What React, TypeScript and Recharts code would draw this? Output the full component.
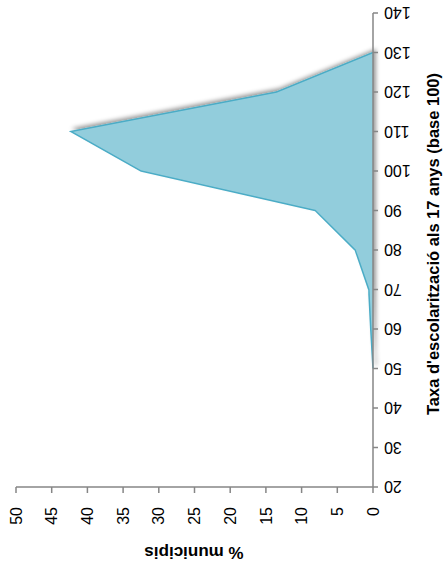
import React from 'react';
import { AreaChart, Area, XAxis, YAxis, Label } from 'recharts';

// taxa d'escolarització (base 100) -> % de municipis
const rates = [20, 30, 40, 50, 60, 70, 80, 90, 100, 110, 120, 130, 140];
const shares = [null, null, null, 0, 0.3, 0.6, 2.5, 8.1, 32.5, 42.3, 13.5, 0, null];
const shareTicks = [0, 5, 10, 15, 20, 25, 30, 35, 40, 45, 50];

const xTitle = "Taxa d'escolarització als 17 anys (base 100)";
const yTitle = '% municipis';

const data = rates.map((r, i) => ({ rate: r, share: shares[i] }));

const FONT = '"Liberation Sans", Arial, sans-serif';
const AXIS = '#868686';

const RateTick = (props: any) => {
  const { x, y, payload } = props;
  return (
    <text
      x={x}
      y={y}
      transform={`rotate(-90, ${x}, ${y})`}
      textAnchor="end"
      dy="0.35em"
      fontSize={16}
      fontFamily={FONT}
      fill="#000"
    >
      {payload.value}
    </text>
  );
};

// chart is drawn unrotated (570x444) and turned a quarter to the left
const XTitle = () => (
  <text
    x={326}
    y={438.5}
    textAnchor="middle"
    fontSize={16.5}
    fontWeight="bold"
    fontFamily={FONT}
    fill="#000"
  >
    {xTitle}
  </text>
);

const YTitle = () => {
  const cx = 23;
  const cy = 194;
  return (
    <text
      x={cx}
      y={cy}
      transform={`rotate(-90, ${cx}, ${cy})`}
      textAnchor="middle"
      fontSize={17}
      fontWeight="bold"
      fontFamily={FONT}
      fill="#000"
    >
      {yTitle}
    </text>
  );
};

const App = (): JSX.Element => {
  return (
    <div
      style={{
        position: 'absolute',
        left: 0,
        top: 0,
        width: 444,
        height: 570,
        overflow: 'hidden',
        background: '#fff',
      }}
    >
      <style>{'.recharts-area { filter: url(#areaShadow); }'}</style>
      <div
        style={{
          width: 570,
          height: 444,
          transformOrigin: '0 0',
          transform: 'translateY(570px) rotate(-90deg)',
        }}
      >
        <AreaChart
          width={570}
          height={444}
          data={data}
          margin={{ top: 16, right: 13, bottom: 0, left: 0 }}
        >
          <defs>
            <filter id="areaShadow" x="-10%" y="-10%" width="130%" height="130%">
              <feDropShadow dx={3} dy={3} stdDeviation={2} floodColor="#000" floodOpacity={0.4} />
            </filter>
          </defs>
          <XAxis
            dataKey="rate"
            height={71}
            tickSize={5}
            tickMargin={6}
            tick={<RateTick />}
            interval={0}
            axisLine={{ stroke: AXIS, strokeWidth: 1.5 }}
            tickLine={{ stroke: AXIS, strokeWidth: 1.5 }}
          >
            <Label content={<XTitle />} />
          </XAxis>
          <YAxis
            width={83}
            domain={[0, 50]}
            ticks={shareTicks}
            interval={0}
            tickSize={6}
            tickMargin={14}
            tick={{ fontSize: 16, fontFamily: FONT, fill: '#000' }}
            axisLine={{ stroke: AXIS, strokeWidth: 1.5 }}
            tickLine={{ stroke: AXIS, strokeWidth: 1.5 }}
          >
            <Label content={<YTitle />} />
          </YAxis>
          <Area
            type="linear"
            dataKey="share"
            stroke="#4BACC6"
            strokeWidth={1.5}
            fill="#92CDDC"
            fillOpacity={1}
            dot={false}
            activeDot={false}
            isAnimationActive={false}
          />
        </AreaChart>
      </div>
    </div>
  );
};

export default App;
